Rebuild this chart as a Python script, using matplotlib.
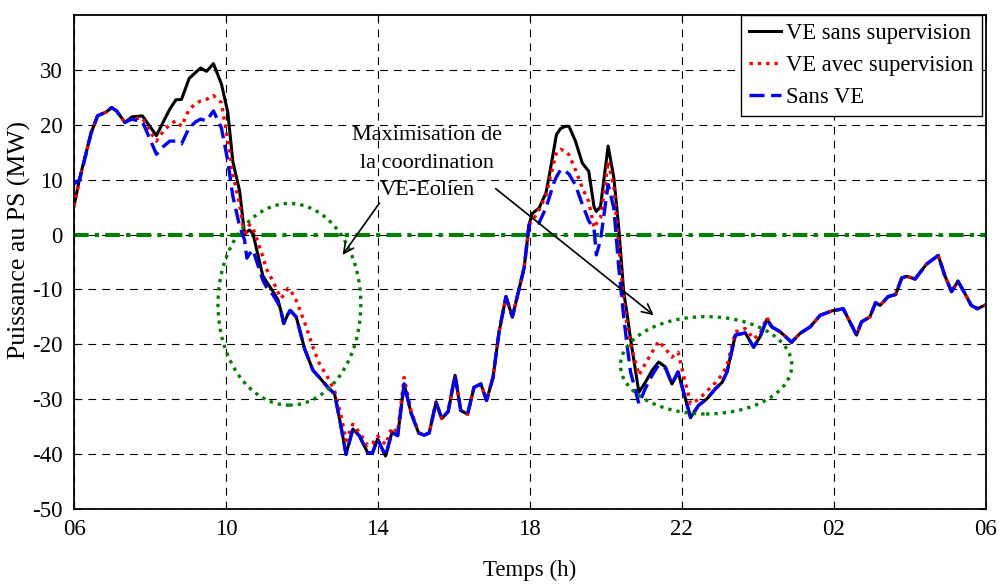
import matplotlib
matplotlib.use("Agg")
import matplotlib.pyplot as plt
from matplotlib.patches import Ellipse

plt.rcParams['font.family'] = ['Liberation Serif', 'DejaVu Serif']
plt.rcParams['axes.unicode_minus'] = False

# ---------------- data ----------------
t = [6.00, 6.15, 6.45, 6.62, 6.85, 6.99, 7.12, 7.34, 7.52, 7.80,
     7.91, 8.17, 8.35, 8.52, 8.68, 8.83, 9.03, 9.20, 9.33, 9.49,
     9.67, 9.88, 10.05, 10.18, 10.36, 10.49, 10.55, 10.62, 10.71, 10.97,
     11.06, 11.24, 11.37, 11.45, 11.52, 11.63, 11.69, 11.85, 12.07, 12.29,
     12.46, 12.68, 12.86, 13.03, 13.16, 13.34, 13.51, 13.73, 13.86, 13.99,
     14.20, 14.37, 14.52, 14.69, 14.87, 15.07, 15.22, 15.35, 15.53, 15.68,
     15.85, 16.03, 16.18, 16.36, 16.53, 16.71, 16.86, 17.03, 17.19, 17.37,
     17.54, 17.85, 17.98, 18.06, 18.24, 18.42, 18.50, 18.63, 18.70, 18.81,
     18.94, 19.03, 19.20, 19.38, 19.55, 19.69, 19.75, 19.86, 20.06, 20.21,
     20.34, 20.47, 20.56, 20.65, 20.87, 21.04, 21.22, 21.39, 21.57, 21.74,
     21.90, 22.23, 22.44, 22.66, 22.88, 23.06, 23.19, 23.41, 23.67, 23.89,
     24.06, 24.24, 24.37, 24.59, 24.89, 25.11, 25.38, 25.64, 25.95, 26.25,
     26.60, 26.73, 26.95, 27.10, 27.22, 27.43, 27.63, 27.79, 27.92, 28.14,
     28.44, 28.75, 28.92, 29.10, 29.27, 29.45, 29.62, 29.78, 30.00]

ve_sans_supervision = [
    5.2, 10.3, 18.5, 21.6, 22.3, 23.1, 22.5, 20.4, 21.4, 21.6,
    20.5, 18.0, 20.5, 22.8, 24.5, 24.6, 28.4, 29.5, 30.3, 29.7,
    31.1, 27.4, 22.2, 13.3, 7.9, 0.0, 0.5, 0.8, 0.2, -7.5,
    -8.5, -10.4, -11.9, -14.0, -16.2, -14.5, -13.8, -15.0, -20.8, -24.7,
    -26.0, -27.8, -29.0, -35.0, -40.0, -35.4, -36.6, -39.7, -39.7, -37.2,
    -40.3, -36.0, -36.6, -27.2, -32.4, -36.1, -36.5, -36.1, -30.5, -33.5,
    -32.2, -25.6, -32.0, -32.7, -27.8, -27.2, -30.2, -26.0, -17.7, -11.3,
    -15.0, -6.0, 1.8, 3.8, 4.8, 7.5, 10.3, 15.5, 18.2, 19.3,
    19.7, 19.7, 17.0, 13.0, 11.5, 5.0, 4.2, 5.1, 16.1, 10.3,
    1.2, -10.4, -14.5, -19.0, -28.7, -26.9, -24.7, -23.2, -24.1, -27.2,
    -25.0, -33.3, -31.1, -29.9, -28.1, -26.9, -25.0, -18.3, -17.9, -20.5,
    -18.6, -15.4, -16.8, -17.7, -19.6, -18.0, -16.8, -14.7, -13.9, -13.5,
    -18.3, -15.9, -15.0, -12.4, -12.9, -11.3, -10.9, -7.9, -7.6, -8.1,
    -5.4, -3.8, -7.4, -10.4, -8.5, -10.7, -12.9, -13.5, -12.8]

ve_avec_supervision = [
    5.2, 10.0, 18.5, 21.6, 22.3, 23.1, 22.5, 20.4, 21.1, 21.2,
    19.8, 17.0, 18.8, 20.0, 20.7, 19.7, 22.8, 23.8, 24.3, 24.6,
    25.3, 24.0, 17.0, 11.0, 5.5, -0.4, 0.8, 1.8, 1.2, -4.0,
    -6.2, -8.5, -10.5, -11.6, -11.0, -9.8, -10.0, -12.0, -16.0, -20.5,
    -23.5, -26.0, -28.5, -33.0, -37.5, -34.5, -36.0, -38.4, -38.0, -36.7,
    -38.2, -35.1, -36.0, -26.0, -32.0, -36.1, -36.5, -36.1, -30.5, -33.5,
    -32.2, -25.6, -32.0, -32.7, -27.8, -27.2, -30.2, -26.0, -17.7, -11.3,
    -15.0, -6.0, 1.8, 2.4, 4.5, 7.0, 9.4, 13.0, 15.0, 15.5,
    15.2, 14.5, 11.8, 8.5, 6.0, 1.2, 2.0, 3.0, 13.3, 8.8,
    -2.0, -12.0, -16.5, -20.0, -25.6, -23.5, -21.4, -19.4, -20.8, -22.3,
    -21.4, -30.8, -30.0, -28.5, -27.0, -25.5, -23.8, -17.7, -17.1, -19.0,
    -18.0, -15.1, -16.8, -17.7, -19.6, -18.0, -16.8, -14.7, -13.9, -13.5,
    -18.3, -15.9, -15.0, -12.4, -12.9, -11.3, -10.9, -7.9, -7.6, -8.1,
    -5.4, -3.8, -7.4, -10.4, -8.5, -10.7, -12.9, -13.5, -12.8]

sans_ve = [
    9.2, 10.0, 18.5, 21.6, 22.3, 23.1, 22.5, 20.4, 21.0, 20.5,
    18.8, 14.6, 16.0, 17.0, 17.0, 16.5, 19.4, 20.5, 21.0, 20.7,
    22.5, 19.4, 13.3, 7.0, 1.5, -1.0, -4.3, -3.5, -2.8, -8.3,
    -9.5, -11.0, -12.5, -14.0, -16.2, -14.5, -13.8, -15.0, -20.8, -24.7,
    -26.0, -27.8, -29.0, -35.0, -40.0, -35.4, -36.6, -39.7, -39.7, -37.2,
    -40.3, -36.0, -36.6, -27.2, -32.4, -36.1, -36.5, -36.1, -30.5, -33.5,
    -32.2, -25.6, -32.0, -32.7, -27.8, -27.2, -30.2, -26.0, -17.7, -11.3,
    -15.0, -6.0, 1.8, 1.8, 2.1, 4.8, 6.5, 9.4, 10.5, 11.8,
    11.5, 11.0, 9.0, 5.5, 2.5, 1.0, -3.7, -1.0, 9.1, 4.8,
    -6.0, -15.0, -20.2, -25.0, -30.8, -28.0, -25.6, -23.7, -24.3, -27.2,
    -25.0, -33.3, -31.1, -29.9, -28.1, -26.9, -25.0, -18.3, -17.9, -20.5,
    -18.6, -15.4, -16.8, -17.7, -19.6, -18.0, -16.8, -14.7, -13.9, -13.5,
    -18.3, -15.9, -15.0, -12.4, -12.9, -11.3, -10.9, -7.9, -7.6, -8.1,
    -5.4, -3.8, -7.4, -10.4, -8.5, -10.7, -12.9, -13.5, -12.8]

labels = ['VE sans supervision', 'VE avec supervision', 'Sans VE']
x_ticks = [6, 10, 14, 18, 22, 26, 30]
x_ticklabels = ['06', '10', '14', '18', '22', '02', '06']
y_ticks = [-50, -40, -30, -20, -10, 0, 10, 20, 30]
annotation = 'Maximisation de\nla coordination\nVE-Eolien'

# ---------------- figure ----------------
fig = plt.figure(figsize=(9.99, 5.84), dpi=100)
ax = fig.add_axes([0.0741, 0.1279, 0.9126, 0.8469])

green = (0.0, 0.5, 0.0)

ax.grid(True, color='black', linestyle=(0, (7, 5.5)), linewidth=0.8)
ax.set_axisbelow(True)

ax.axhline(0, color=green, linestyle=(0, (3.5, 1.5, 1, 1.5)), linewidth=3, zorder=2)

l1, = ax.plot(t, ve_sans_supervision, color='black', linewidth=2.2, zorder=3)
l2, = ax.plot(t, ve_avec_supervision, color='red', linewidth=2.4,
              linestyle=(0, (1, 1.5)), zorder=4)
l3, = ax.plot(t, sans_ve, color='blue', linewidth=2.4,
              linestyle=(0, (4.5, 2)), zorder=5)

# ellipses
e1 = Ellipse((11.67, -12.7), 3.76, 36.7, fill=False, edgecolor=green,
             linewidth=2.4, linestyle=(0, (1, 1.5)), zorder=6)
e2 = Ellipse((22.64, -23.8), 4.51, 17.7, fill=False, edgecolor=green,
             linewidth=2.4, linestyle=(0, (1, 1.5)), zorder=6)
ax.add_patch(e1)
ax.add_patch(e2)

# annotation
ax.text(15.3, 13.0, annotation, ha='center', va='center', fontsize=16,
        linespacing=1.6, zorder=7)
ax.annotate('', xy=(13.07, -3.71), xytext=(14.04, 5.72),
            arrowprops=dict(arrowstyle='->', color='black', lw=1.2,
                            mutation_scale=18, shrinkA=0, shrinkB=0), zorder=7)
ax.annotate('', xy=(21.26, -14.68), xytext=(17.10, 8.35),
            arrowprops=dict(arrowstyle='->', color='black', lw=1.2,
                            mutation_scale=18, shrinkA=0, shrinkB=0), zorder=7)

ax.set_xlim(6, 30)
ax.set_ylim(-50, 40)
ax.set_xticks(x_ticks)
ax.set_xticklabels(x_ticklabels)
ax.set_yticks(y_ticks)
ax.tick_params(direction='in', length=5, width=0.8, labelsize=16.5, pad=7,
               top=True, right=True)
ax.tick_params(axis='y', pad=8)
for sp in ax.spines.values():
    sp.set_linewidth(1.3)
    sp.set_color('black')

ax.set_xlabel('Temps (h)', fontsize=16.5, labelpad=14)
ax.set_ylabel('Puissance au PS (MW)', fontsize=18.5)
ax.yaxis.set_label_coords(-0.047, 0.545)

leg = ax.legend([l1, l2, l3], labels, loc='upper right',
                bbox_to_anchor=(0.9956, 1.0), borderaxespad=0,
                fontsize=16.3, frameon=True, fancybox=False,
                edgecolor='black', framealpha=1, handlelength=1.45,
                handletextpad=0.22, labelspacing=0.5, borderpad=0.35)
leg.get_frame().set_linewidth(1.0)
leg.set_zorder(10)

fig.savefig('out.png', dpi=100)
